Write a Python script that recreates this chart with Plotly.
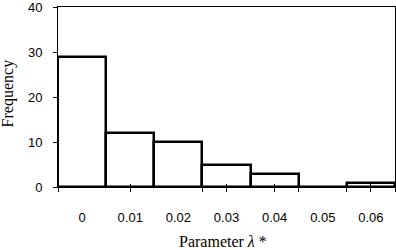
import plotly.graph_objects as go

categories = ["0", "0.01", "0.02", "0.03", "0.04", "0.05", "0.06"]
frequency = [29, 12, 10, 5, 3, 0, 1]
y_ticks = [0, 10, 20, 30, 40]
x_tick_marks = [0, 1.5, 3, 3.5, 4.5, 5, 6, 6.5, 7]

positions = [i + 0.5 for i in range(len(categories))]

fig = go.Figure()
fig.add_trace(go.Bar(
    x=positions, y=frequency, width=1,
    marker=dict(color="white", line=dict(color="black", width=2.5)),
    cliponaxis=False, showlegend=False, hoverinfo="skip",
))

tick_font = dict(family="Liberation Sans, Arial, sans-serif", size=13, color="black")
title_font = dict(family="Liberation Serif, Times New Roman, serif", size=16, color="black")

fig.update_layout(
    width=396, height=250,
    margin=dict(l=58, r=1, t=7, b=63, autoexpand=False),
    paper_bgcolor="white", plot_bgcolor="white",
    bargap=0,
    xaxis=dict(
        range=[0, 7], tickvals=positions, ticktext=categories,
        ticks="", showgrid=False, zeroline=False,
        showline=True, linecolor="black", linewidth=1, mirror=True,
        tickfont=tick_font, ticklabelstandoff=18,
    ),
    xaxis2=dict(
        range=[0, 7], overlaying="x", anchor="y", side="bottom",
        tickvals=x_tick_marks, showticklabels=False, ticks="outside",
        ticklen=4, tickwidth=1, tickcolor="black", showgrid=False,
        zeroline=False, showline=False,
    ),
    xaxis3=dict(
        range=[0, 7], overlaying="x", anchor="y", side="bottom",
        tickvals=x_tick_marks, showticklabels=False, ticks="inside",
        ticklen=3, tickwidth=1, tickcolor="black", showgrid=False,
        zeroline=False, showline=False,
    ),
    yaxis=dict(
        range=[0, 40], tickvals=y_ticks, ticks="outside", ticklen=4,
        tickwidth=1, tickcolor="black", showgrid=False, zeroline=False,
        showline=True, linecolor="black", linewidth=1, mirror=True,
        tickfont=tick_font, ticklabelstandoff=8, ticklabeloverflow="allow",
    ),
    annotations=[
        dict(text="Frequency", xref="paper", yref="paper", x=0, y=0.52,
             xanchor="center", yanchor="middle", xshift=-50, textangle=-90,
             showarrow=False, font=title_font),
        dict(text="Parameter <i>λ</i> *", xref="paper", yref="paper", x=0.49, y=0,
             xanchor="center", yanchor="middle", yshift=-54,
             showarrow=False, font=title_font),
    ],
)
# invisible traces to activate overlay axes
fig.add_trace(go.Scatter(x=[None], y=[None], xaxis="x2", showlegend=False, hoverinfo="skip"))
fig.add_trace(go.Scatter(x=[None], y=[None], xaxis="x3", showlegend=False, hoverinfo="skip"))

fig.write_html("out.html", config={"displayModeBar": False},
               post_script="document.body.style.margin='0';document.body.style.padding='0';")
